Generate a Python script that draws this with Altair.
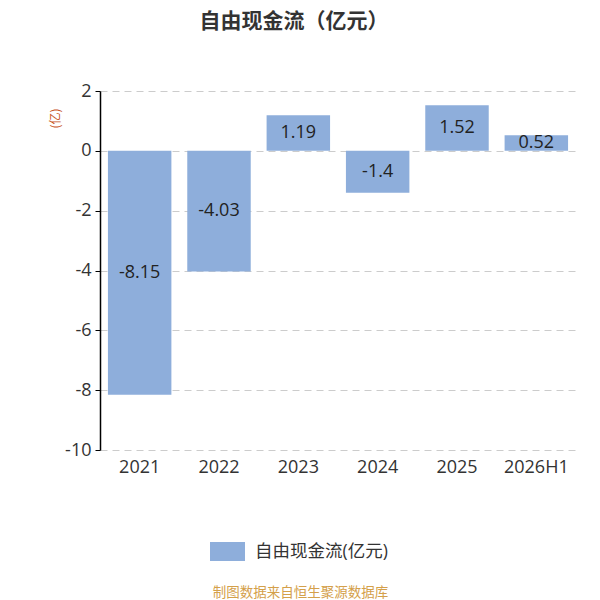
import altair as alt
import pandas as pd

years = ["2021", "2022", "2023", "2024", "2025", "2026H1"]
values = [-8.15, -4.03, 1.19, -1.4, 1.52, 0.52]
labels = ["-8.15", "-4.03", "1.19", "-1.4", "1.52", "0.52"]
series_name = "自由现金流(亿元)"
y_ticks = [-10, -8, -6, -4, -2, 0, 2]

df = pd.DataFrame({"year": years, "value": values, "label": labels, "series": [series_name] * len(years)})

FONT = "Open Sans, Noto Sans CJK SC"
CJK = "Noto Sans CJK SC"

base = alt.Chart(df).encode(
    x=alt.X("year:N", sort=years,
            scale=alt.Scale(paddingInner=0.2, paddingOuter=0.1),
            axis=alt.Axis(title="制图数据来自恒生聚源数据库", labelAngle=0, ticks=False, domain=False,
                          labelFontSize=18, labelColor="#333", labelPadding=8, labelFont=FONT,
                          titleFont=CJK, titleFontSize=13.5, titleColor="#d4a04a", titleFontWeight="normal",
                          titlePadding=109, titleX=200)),
)

bars = base.mark_bar(color="#8eaedb").encode(
    y=alt.Y("value:Q", scale=alt.Scale(domain=[-10, 2], nice=False),
            axis=alt.Axis(values=y_ticks, labelExpr="'' + datum.value",
                          title="(亿)", titleColor="#c8541e", titleFontSize=12,
                          titleFontWeight="normal", titleFont=CJK, titleAngle=-90, titleX=-45, titleY=27,
                          titleAlign="center", titleBaseline="middle",
                          labelFontSize=18, labelColor="#333", labelFont=FONT, labelPadding=4,
                          tickSize=5, tickColor="#000", domainColor="#000", domainWidth=1.5,
                          grid=True, gridDash=[7, 5], gridColor="#ccc")),
    color=alt.Color("series:N", scale=alt.Scale(range=["#8eaedb"]),
                    legend=alt.Legend(title=None, orient="none", legendX=110, legendY=443,
                                      symbolType="M-1,-0.54H1V0.54H-1Z", symbolSize=1225,
                                      symbolStrokeWidth=0, symbolOpacity=1,
                                      labelFontSize=17.5, labelColor="#333", labelFont=FONT, labelOffset=10)),
)

text = base.transform_calculate(mid="datum.value / 2").mark_text(
    fontSize=18, color="#222", font=FONT, baseline="middle"
).encode(y="mid:Q", text="label:N")

chart = (bars + text).properties(
    width=476, height=359,
    autosize=alt.AutoSizeParams(type="none"),
    padding={"left": 92, "top": 83, "right": 16, "bottom": 150},
    title=alt.TitleParams("自由现金流（亿元）", fontSize=21, fontWeight="bold", font=CJK,
                          color="#333", anchor="middle", dx=-44, offset=50),
).configure_view(stroke=None)

chart.save("out.html", embed_options={"renderer": "svg", "actions": False})
